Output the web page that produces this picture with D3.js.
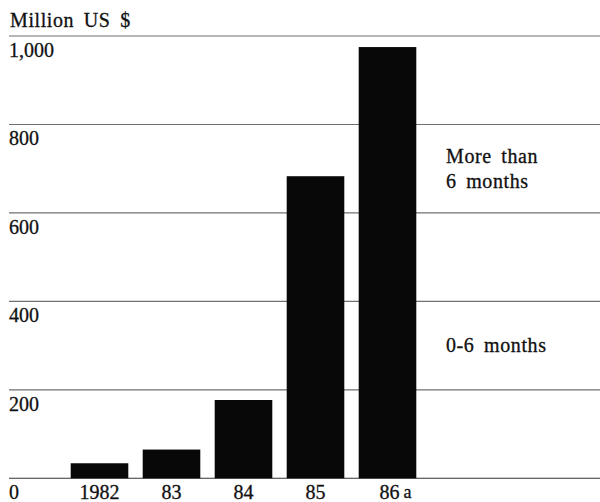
<!DOCTYPE html>
<html>
<head>
<meta charset="utf-8">
<script src="https://cdn.jsdelivr.net/npm/d3@7"></script>
<style>
  body { margin: 0; background: #fff; }
  text { font-family: "Liberation Serif", "DejaVu Serif", serif; fill: #111; stroke: #111; stroke-width: 0.3px; }
</style>
</head>
<body>
<svg id="chart" width="600" height="502"></svg>
<script>
// Values (million US $)
const years = ['1982', '83', '84', '85', '86'];
const footnotes = ['', '', '', '', 'a'];
const totals = [34, 65, 177, 683, 975];
const yTicks = [0, 200, 400, 600, 800, 1000];
const sideLabels = [
    { lines: ['More than', '6 months'], y: 162.7 },
    { lines: ['0-6 months'], y: 352.3 }
];

const svg = d3.select('#chart');

const y = d3.scaleLinear()
    .domain([0, 1000])
    .range([478.3, 36]);

const x = d3.scaleBand()
    .domain(years)
    .range([63.5, 423.5])
    .paddingInner(0.2)
    .paddingOuter(0.1);

// Gridlines (behind bars)
svg.append('g')
    .selectAll('line')
    .data(yTicks)
    .enter()
    .append('line')
    .attr('x1', 9)
    .attr('x2', 600)
    .attr('y1', d => y(d))
    .attr('y2', d => y(d))
    .attr('stroke', d => d === 0 ? '#333' : '#707070')
    .attr('stroke-width', 1.1);

// Y tick labels, sitting under each line
svg.append('g')
    .selectAll('text')
    .data(yTicks)
    .enter()
    .append('text')
    .attr('x', 9)
    .attr('y', d => y(d) + 21)
    .attr('font-size', '20px')
    .text(d => d3.format(',')(d));

// Bars
svg.append('g')
    .selectAll('rect')
    .data(years)
    .enter()
    .append('rect')
    .attr('x', d => x(d))
    .attr('width', x.bandwidth())
    .attr('y', (d, i) => y(totals[i]))
    .attr('height', (d, i) => y(0) - y(totals[i]))
    .attr('fill', '#080808');

// Year labels
const xl = svg.append('g');
years.forEach((d, i) => {
    const cx = x(d) + x.bandwidth() / 2;
    xl.append('text')
        .attr('x', cx + (footnotes[i] ? 2 : 0))
        .attr('y', 499)
        .attr('text-anchor', 'middle')
        .attr('font-size', '20px')
        .text(d);
    if (footnotes[i]) {
        xl.append('text')
            .attr('x', cx + 16)
            .attr('y', 498)
            .attr('font-size', '18px')
            .text(footnotes[i]);
    }
});

// Axis title
svg.append('text')
    .attr('x', 10)
    .attr('y', 27)
    .attr('font-size', '20px')
    .style('letter-spacing', '0.6px')
    .style('word-spacing', '4px')
    .text('Million US $');

// Segment labels at the right
sideLabels.forEach(lab => {
    const t = svg.append('text')
        .attr('x', 446)
        .attr('y', lab.y)
        .attr('font-size', '20px')
        .style('letter-spacing', '0.6px')
        .style('word-spacing', '4px');
    lab.lines.forEach((ln, j) => {
        t.append('tspan')
            .attr('x', 446)
            .attr('dy', j === 0 ? 0 : 25.6)
            .text(ln);
    });
});
</script>
</body>
</html>
